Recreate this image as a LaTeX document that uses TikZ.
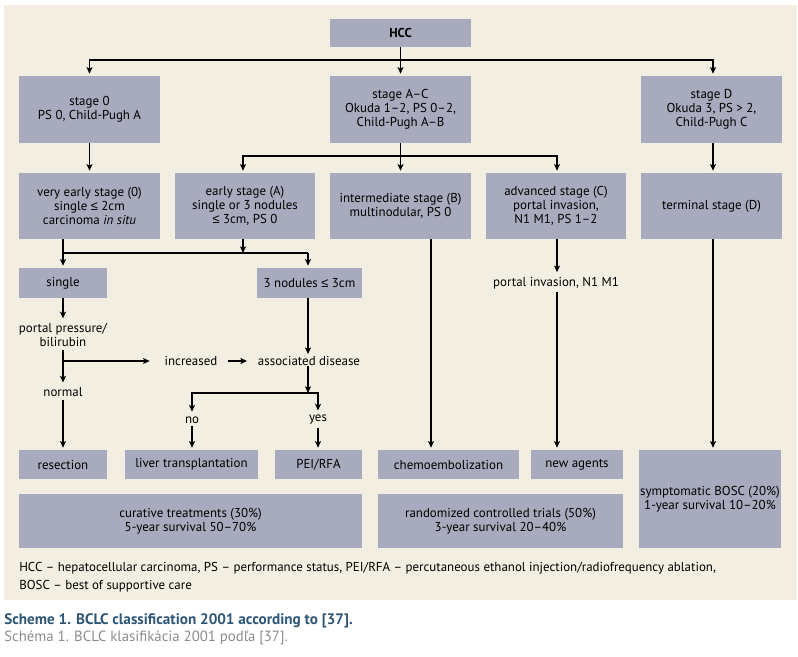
\documentclass[tikz,border=0pt]{standalone}
\usepackage{fontspec}
\setmainfont{PT Sans}
\newfontfamily\symf{Liberation Sans}
\usetikzlibrary{arrows.meta}
\definecolor{bg}{HTML}{F3EEE2}
\definecolor{boxc}{HTML}{A8AABD}
\definecolor{capblue}{HTML}{2E5677}
\definecolor{capgray}{HTML}{8C8C8C}
\newcommand\fsz{\fontsize{9.7}{10.6}\selectfont}
\newcommand\lesym{{\symf ≤}}
\begin{document}
\begin{tikzpicture}[x=0.75pt,y=-0.75pt,
  box/.style 2 args={fill=boxc, inner sep=0pt, align=center, font=\fsz,
     minimum width=#1*0.75pt, minimum height=#2*0.75pt},
  lbl/.style={inner sep=2pt, align=center, font=\fsz},
  ln/.style={line width=0.9pt},
  arr/.style={ln, -{Stealth[length=5pt,width=4.5pt,inset=1.2pt]}, shorten >=1.5pt},
  arr0/.style={ln, -{Stealth[length=5pt,width=4.5pt,inset=1.2pt]}}]
\useasboundingbox (0,0) rectangle (798,656);
\fill[bg] (4,5) rectangle (797,600);

% boxes
\node[box={141}{28}, font=\fsz\bfseries] (hcc) at (400.5,33) {HCC};
\node[box={141}{67}] (s0) at (89.5,109.5) {stage 0\\PS 0, Child-Pugh A};
\node[box={141}{67}] (sac) at (400.5,109.5) {stage A--C\\Okuda 1--2, PS 0--2,\\Child-Pugh A--B};
\node[box={141}{67}] (sd) at (711.5,109.5) {stage D\\Okuda 3, PS > 2,\\Child-Pugh C};
\node[box={141}{66}] (ve) at (89.5,206) {very early stage (0)\\single \lesym{} 2cm\\carcinoma \textit{in situ}};
\node[box={140}{66}] (ea) at (245,206) {early stage (A)\\single or 3 nodules\\\lesym{} 3cm, PS 0};
\node[box={141}{66}] (ib) at (400.5,206) {intermediate stage (B)\\multinodular, PS 0};
\node[box={140}{66}] (ad) at (556,206) {advanced stage (C)\\portal invasion,\\N1 M1, PS 1--2};
\node[box={141}{66}] (td) at (711.5,206) {terminal stage (D)};
\node[box={88}{30}] (single) at (63,283) {single};
\node[box={105}{30}] (three) at (309.5,283) {3 nodules \lesym{} 3cm};
\node[box={88}{29}] (res) at (63,464.5) {resection};
\node[box={133}{29}] (lt) at (191.5,464.5) {liver transplantation};
\node[box={87}{29}] (pei) at (318.5,464.5) {PEI/RFA};
\node[box={141}{29}] (chemo) at (448.5,464.5) {chemoembolization};
\node[box={92}{29}] (na) at (577,464.5) {new agents};
\node[box={142}{98}] (bosc) at (710,499) {symptomatic BOSC (20\%)\\1-year survival 10--20\%};
\node[box={343}{54}] (cur) at (190.5,521) {curative treatments (30\%)\\5-year survival 50--70\%};
\node[box={245}{54}] (rct) at (500.5,521) {randomized controlled trials (50\%)\\3-year survival 20--40\%};

% free labels
\node[lbl] (pp) at (63,335) {portal pressure/\\bilirubin};
\node[lbl] (normal) at (63,392) {normal};
\node[lbl, inner sep=0pt] (inc) at (191,361) {increased};
\node[lbl, inner sep=0pt] (assoc) at (309,361) {associated disease};
\node[lbl] (no) at (192,420) {no};
\node[lbl] (yes) at (318,420) {yes};
\node[lbl] (pinv) at (556,283) {portal invasion, N1 M1};

% coordinates
\coordinate (j1) at (400.5,60);
\coordinate (j2) at (400.5,156);
\coordinate (j3) at (63,253);
\coordinate (j4) at (308,253);
\coordinate (j5) at (63,361);
\coordinate (j6) at (308,393);
\coordinate (xb) at (431,0);
\coordinate (xc) at (557,0);
\coordinate (xd) at (713,0);
\coordinate (xa) at (243,0);

% connectors
\draw[arr] (hcc) -- (sac);
\draw[arr] (j1) -| (s0.north);
\draw[arr] (j1) -| (sd.north -| xd);
\draw[arr] (s0) -- (ve);
\draw[arr] (j2) -| (ea.north -| xa);
\draw[arr] (j2) -| (ad.north -| xc);
\draw[arr] (sac) -- (ib);
\draw[arr] (sd.south -| xd) -- (td.north -| xd);
\draw[ln] (ve.south -| j3) -- (j3) -- (j4);
\draw[arr0] (ea.south -| xa) -- (j3 -| xa);
\draw[arr] (j3) -- (single);
\draw[arr] (j4) -- (three.north -| j4);
\draw[arr] (single) -- (pp);
\draw[arr] (pp) -- (normal);
\draw[arr, shorten >=11pt] (j5) -- (inc.west);
\draw[arr, shorten <=7.5pt, shorten >=8pt] (inc.east) -- (assoc.west);
\draw[arr] (three.south -| j4) -- (assoc.north -| j4);
\draw[arr0] (assoc.south -| j4) -- (j6);
\draw[ln] (j6) -- (j6 -| yes);
\draw[arr] (j6) -| (no.north);
\draw[arr] (j6) -| (yes.north);
\draw[arr] (no) -- (lt.north -| no);
\draw[arr] (yes) -- (pei.north -| yes);
\draw[arr] (normal) -- (res);
\draw[arr] (ib.south -| xb) -- (chemo.north -| xb);
\draw[arr] (ad.south -| xc) -- (pinv.north -| xc);
\draw[arr] (pinv.south -| xc) -- (na.north -| xc);
\draw[arr] (td.south -| xd) -- (bosc.north -| xd);

% footnote and caption
\node[anchor=base west, inner sep=0pt, font=\fsz] (fn1) at (19,571) {HCC -- hepatocellular carcinoma, PS -- performance status, PEI/RFA -- percutaneous ethanol injection/radiofrequency ablation,};
\node[anchor=base west, inner sep=0pt, font=\fsz] (fn2) at (19,589) {BOSC -- best of supportive care};
\node[anchor=base west, inner sep=0pt, font=\fontsize{11.4}{13}\selectfont\bfseries, text=capblue] (cap1) at (4,624) {Scheme 1. BCLC classification 2001 according to [37].};
\node[anchor=base west, inner sep=0pt, font=\fontsize{11.1}{13}\selectfont, text=capgray] (cap2) at (4,641) {Schéma 1. BCLC klasifikácia 2001 podľa [37].};
\end{tikzpicture}
\end{document}
